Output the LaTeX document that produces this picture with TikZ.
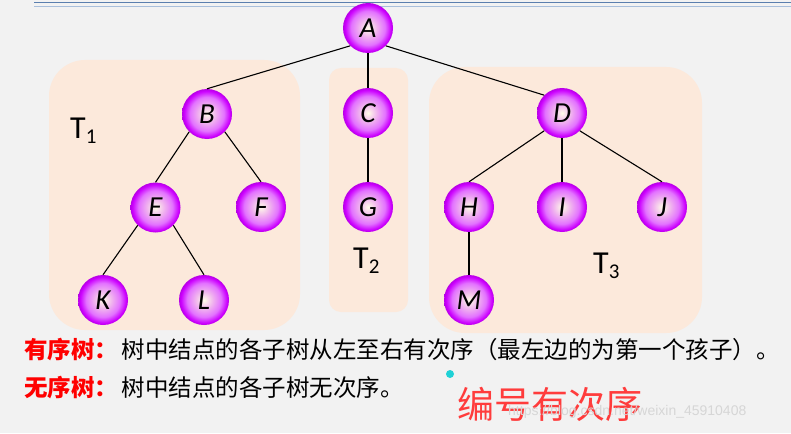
\documentclass[tikz,border=0pt]{standalone}
\usepackage{fontspec}
\setmainfont{Carlito}
\setmonofont{Liberation Sans}
\newfontfamily\cjk{Noto Sans CJK SC}
\usetikzlibrary{positioning}
\definecolor{page}{HTML}{F2F2F2}
\definecolor{panel}{HTML}{FCE9DB}
\definecolor{ball}{HTML}{CC00FF}
\definecolor{ballrim}{HTML}{B800E6}
\definecolor{ballcore}{HTML}{FFFDE8}
\definecolor{rule}{HTML}{5B7FAE}
\definecolor{rulelight}{HTML}{A9BFDB}
\definecolor{keyred}{HTML}{FF0000}
\definecolor{notered}{HTML}{FF3C3C}
\definecolor{dotcyan}{HTML}{1FD1D6}
\pgfdeclareradialshading{sphere}{\pgfpoint{0bp}{0bp}}{%
  color(0bp)=(ballcore); color(9bp)=(ballcore!70!ball); color(17bp)=(ball!55!white);
  color(23bp)=(ball); color(25bp)=(ballrim); color(50bp)=(ballrim)}
\newcommand\treename[1]{T\raisebox{-5pt}{\fontsize{21}{21}\selectfont#1}}
\tikzset{
  vertex/.style={circle,minimum size=50pt,inner sep=0pt,shading=sphere,
    font=\itshape\fontsize{29}{29}\selectfont},
  link/.style={draw=black,line width=1.1pt},
  subtree/.style={fill=panel,draw=none},
  treelabel/.style={font=\fontsize{32}{32}\selectfont,anchor=base west,inner sep=0pt},
  keyword/.style={font=\cjk\bfseries\fontsize{23.5}{23.5}\selectfont,text=keyred,anchor=west,inner sep=0pt},
  rulebody/.style={font=\cjk\fontsize{23.5}{23.5}\selectfont,anchor=west,inner sep=0pt},
  remark/.style={font=\cjk\fontsize{37}{37}\selectfont,text=notered,anchor=west,inner sep=0pt},
  watermark/.style={font=\ttfamily\fontsize{14}{14}\selectfont,text=black!16,anchor=west,inner sep=0pt}
}

\begin{document}
\begin{tikzpicture}[x=1pt,y=-1pt]
  \fill[page] (0,0) rectangle (791,433);
  \useasboundingbox (0,0) rectangle (791,433);
  % slide header rules
  \draw[rule,line width=1.6pt] (34,2.6) -- (791,2.6);
  \draw[rulelight,line width=1.3pt] (34,6.8) -- (791,6.8);

  % the three subtrees
  \fill[subtree,rounded corners=36pt] (49,60) rectangle (300,330);
  \fill[subtree,rounded corners=12pt] (329,68) rectangle (408,312);
  \fill[subtree,rounded corners=36pt] (429,67) rectangle (702,333);
  \node[treelabel] (t1) at (70,138) {\treename{1}};
  \node[treelabel] (t2) at (353,268) {\treename{2}};
  \node[treelabel] (t3) at (593,273) {\treename{3}};

  % vertices
  \foreach \v/\x/\y in {A/368/28,B/207/114,C/368/113,D/562/113,
      E/155.5/207.5,F/261/207,G/368/207,H/469/207,I/562/207,J/662/207,
      K/103/300,L/204/300,M/469/300}
    \node[vertex] (\v) at (\x,\y) {\v};
  \foreach \p/\c in {A.south west/B.north,A.south/C.north,A.south east/D.north west,
      B.south west/E.north,B.south east/F.north,C.south/G.north,
      D.south west/H.north,D.south/I.north,D.south east/J.north,
      E.south west/K.north,E.south east/L.north,H.south/M.north}
    \draw[link] (\p) -- (\c);

  % definitions below the trees
  \node[keyword] (ordkey) at (24,350) {有序树：};
  \node[rulebody,right=3pt of ordkey] (ordtext) {树中结点的各子树从左至右有次序（最左边的为第一个孩子）。};
  \node[keyword] (unordkey) at (24,388) {无序树：};
  \node[rulebody,right=3pt of unordkey] (unordtext) {树中结点的各子树无次序。};
  \fill[dotcyan] (450,374) circle (4);
  \node[remark] (note) at (457,404) {编号有次序};
  \node[watermark] (wm) at (508,412) {https://blog.csdn.net/weixin\_45910408};
\end{tikzpicture}
\end{document}
